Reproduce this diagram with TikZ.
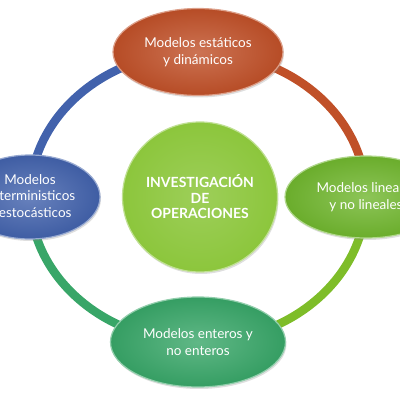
\documentclass[tikz,border=0pt]{standalone}
\usepackage{fontspec}
\setmainfont{Lato}
\usepackage{tikz}
\usepackage{xcolor}
\usetikzlibrary{shapes.geometric,shadows,backgrounds}
\definecolor{RustOrange}{RGB}{192,80,40}
\definecolor{RoyalBlue}{RGB}{66,98,172}
\definecolor{LimeGreen}{RGB}{112,182,46}
\definecolor{SeaGreen}{RGB}{56,166,104}
\definecolor{CoreGreen}{RGB}{140,198,60}

\begin{document}
\begin{tikzpicture}[x=1pt, y=1pt,
  model/.style={ellipse, draw=#1!55!white, line width=1.2pt,
    inner color=#1!80!white, outer color=#1!95!black,
    drop shadow={shadow xshift=1pt, shadow yshift=-2pt, opacity=0.25},
    text=white, align=center, inner sep=0pt,
    font=\fontsize{13.5}{16.5}\selectfont},
  ring/.style={line width=8.5pt, draw=#1}]
\clip (0,0) rectangle (400,400);
% ring of models around the centre
\node[model=CoreGreen, outer color=CoreGreen, inner color=CoreGreen!85!white,
      minimum width=155pt, minimum height=150pt,
      font=\bfseries\fontsize{14}{15.5}\selectfont] (core) at (200,203)
      {INVESTIGACIÓN\\DE\\OPERACIONES};
\node[model=RustOrange, minimum width=170pt, minimum height=87pt] (top) at (198,348)
      {Modelos estáticos\\y dinámicos};
\node[model=LimeGreen, minimum width=162pt, minimum height=82pt] (right) at (366,203)
      {Modelos lineales\\y no lineales};
\node[model=SeaGreen, minimum width=175pt, minimum height=90pt] (bottom) at (198,58)
      {Modelos enteros y\\no enteros};
\node[model=RoyalBlue, minimum width=140pt, minimum height=84pt] (left) at (30,203)
      {Modelos\\deterministicos\\y estocásticos};
\begin{scope}[on background layer]
\draw[ring=RoyalBlue] (left.center) arc[start angle=180, end angle=90, x radius=168, y radius=145];
\draw[ring=RustOrange] (top.center) arc[start angle=90, end angle=0, x radius=168, y radius=145];
\draw[ring=LimeGreen!90!yellow] (right.center) arc[start angle=0, end angle=-90, x radius=168, y radius=145];
\draw[ring=SeaGreen] (bottom.center) arc[start angle=270, end angle=180, x radius=168, y radius=145];
\end{scope}
\end{tikzpicture}
\end{document}
